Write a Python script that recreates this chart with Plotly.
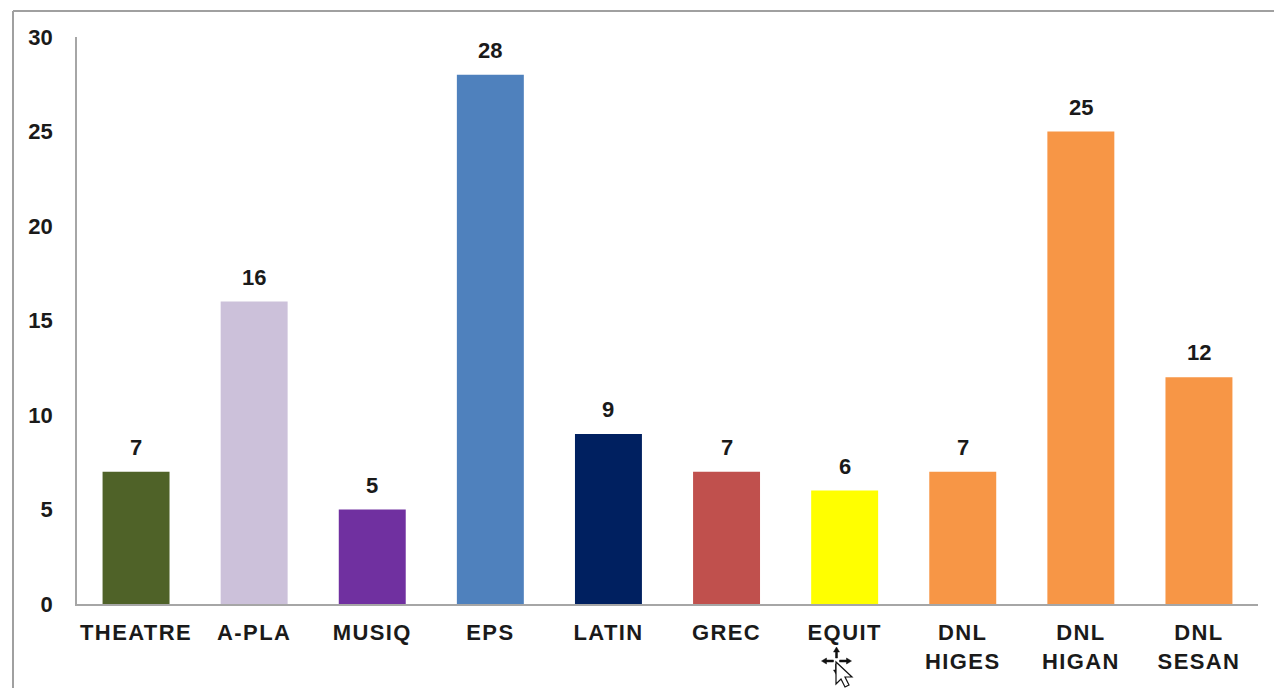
import plotly.graph_objects as go

categories = ["THEATRE", "A-PLA", "MUSIQ", "EPS", "LATIN", "GREC", "EQUIT",
              "DNL<br>HIGES", "DNL<br>HIGAN", "DNL<br>SESAN"]
values = [7, 16, 5, 28, 9, 7, 6, 7, 25, 12]
colors = ["#4F6228", "#CCC1DA", "#7030A0", "#4F81BD", "#002060",
          "#C0504D", "#FFFF00", "#F79646", "#F79646", "#F79646"]
y_ticks = [0, 5, 10, 15, 20, 25, 30]

FONT = "Liberation Sans"
INK = "#1a1a1a"
W, H = 1274, 688
L, R, T, B = 77, 16, 37, 84
bold = dict(family=FONT, size=22, color=INK, weight=700)

fig = go.Figure(go.Bar(
    x=categories, y=values, marker=dict(color=colors, line_width=0), width=0.567,
))
fig.update_layout(
    width=W, height=H, margin=dict(l=L, r=R, t=T, b=B, pad=0),
    paper_bgcolor="white", plot_bgcolor="white", showlegend=False,
    font=bold,
    xaxis=dict(showgrid=False, showline=True, linecolor="#a6a6a6", linewidth=1.5,
               ticks="outside", ticklen=8, tickcolor="rgba(0,0,0,0)", tickfont=bold, tickangle=0),
    yaxis=dict(range=[0, 30], tickvals=y_ticks, showgrid=False, showline=True,
               linecolor="#a6a6a6", linewidth=1.5, ticks="outside", ticklen=18,
               tickcolor="rgba(0,0,0,0)", zeroline=False, tickfont=bold),
)

# value labels above the bars
for c, v in zip(categories, values):
    fig.add_annotation(x=c, y=v, text=str(v), showarrow=False, yanchor="bottom", yshift=10, font=bold)


def px(x):
    return (x - L) / (W - L - R)


def py(y):
    return 1 - (y - T) / (H - T - B)


# screenshot frame (top and left edges)
fig.add_shape(type="line", xref="paper", yref="paper", x0=px(13), x1=px(1274), y0=py(11), y1=py(11),
              line=dict(color="#a0a0a0", width=2))
fig.add_shape(type="line", xref="paper", yref="paper", x0=px(13), x1=px(13), y0=py(11), y1=py(688),
              line=dict(color="#a0a0a0", width=2))

# mouse pointer visible in the screenshot: move cross, then arrow
cross = ("M -15 0 L -10 3 L -10 1 L -3 1 L -3 -1 L -10 -1 L -10 -3 Z "
         "M 15 0 L 10 3 L 10 1 L 3 1 L 3 -1 L 10 -1 L 10 -3 Z "
         "M 0 14 L 3 9 L 1 9 L 1 3 L -1 3 L -1 9 L -3 9 Z "
         "M 0 -14 L 3 -9 L 1 -9 L 1 -3 L -1 -3 L -1 -9 L -3 -9 Z")
fig.add_shape(type="path", xref="paper", yref="paper", xsizemode="pixel", ysizemode="pixel",
              xanchor=px(836.5), yanchor=py(661), path=cross,
              fillcolor="#111111", line=dict(color="#111111", width=0.5))
fig.add_shape(type="path", xref="paper", yref="paper", xsizemode="pixel", ysizemode="pixel",
              xanchor=px(836), yanchor=py(662),
              path="M 0 0 L 0 -22 L 5 -17 L 9 -25 L 13 -23 L 9 -15 L 16 -15 Z",
              fillcolor="white", line=dict(color="#111111", width=1.2))

css = ("var s=document.createElement('style');"
       "s.textContent='.xtick text{letter-spacing:1.4px}';"
       "document.head.appendChild(s);"
       "document.body.style.margin='0';document.body.style.overflow='hidden';")
fig.write_html("out.html", post_script=css, config=dict(displayModeBar=False))
